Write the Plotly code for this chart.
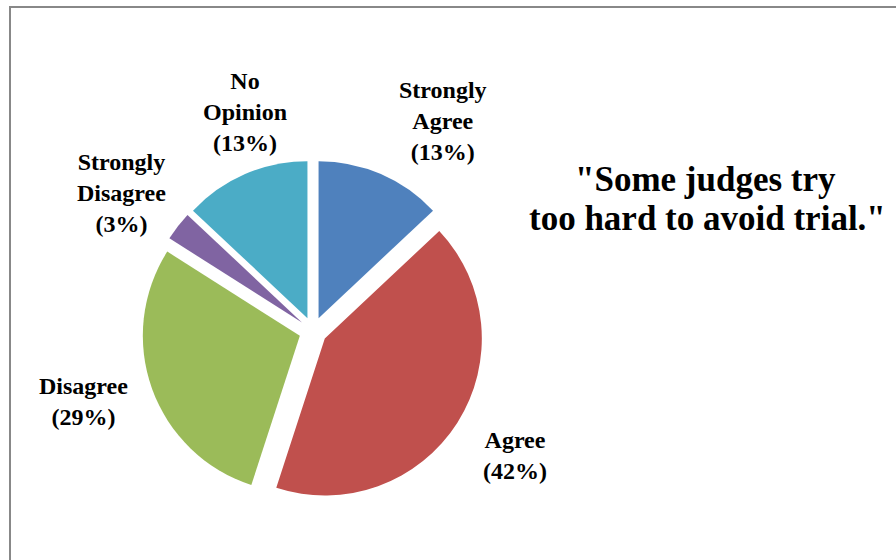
import plotly.graph_objects as go

categories = ["Strongly Agree", "Agree", "Disagree", "Strongly Disagree", "No Opinion"]
label_lines = ["Strongly<br>Agree", "Agree", "Disagree", "Strongly<br>Disagree", "No<br>Opinion"]
values = [13, 42, 29, 3, 13]
colors = ["#4F81BD", "#C0504D", "#9BBB59", "#8064A2", "#4BACC6"]
title_lines = ['"Some judges try', 'too hard to avoid trial."']

# label anchor positions (pixel centres)
label_pos = [(443, 121), (515, 455), (83, 401), (122, 193), (245, 112)]
title_pos = [(705, 179), (707, 219)]

W, H = 896, 560
cx, cy, half = 313, 331, 171

fig = go.Figure(go.Pie(
    labels=categories, values=values, sort=False, direction="clockwise",
    rotation=0, pull=[0.089]*5, textinfo="none", hoverinfo="label+percent",
    marker=dict(colors=colors, line=dict(width=0)),
    domain=dict(x=[(cx-half)/W, (cx+half)/W], y=[(H-cy-half)/H, (H-cy+half)/H]),
    showlegend=False,
))

font = dict(family="Liberation Serif", size=24, color="#000000")
anns = []
for lab, v, (x, y) in zip(label_lines, values, label_pos):
    anns.append(dict(x=x/W, y=1-y/H, xref="paper", yref="paper", xanchor="center", yanchor="middle",
                     text=f"<b>{lab}<br>({v}%)</b>", showarrow=False, font=font, align="center"))
for t, (x, y) in zip(title_lines, title_pos):
    anns.append(dict(x=x/W, y=1-y/H, xref="paper", yref="paper", xanchor="center", yanchor="middle",
                     text=f"<b>{t}</b>", showarrow=False, align="center",
                     font=dict(family="Liberation Serif", size=35, color="#000000")))

fig.update_layout(
    width=W, height=H, margin=dict(l=0, r=0, t=0, b=0),
    paper_bgcolor="white", plot_bgcolor="white",
    annotations=anns,
    shapes=[dict(type="rect", xref="paper", yref="paper", x0=10/W, x1=1.02, y0=-0.02, y1=1-7/H,
                 line=dict(color="#888888", width=2))],
)
fig.write_html("out.html", config={"displayModeBar": False},
               post_script="document.body.style.margin='0';")
